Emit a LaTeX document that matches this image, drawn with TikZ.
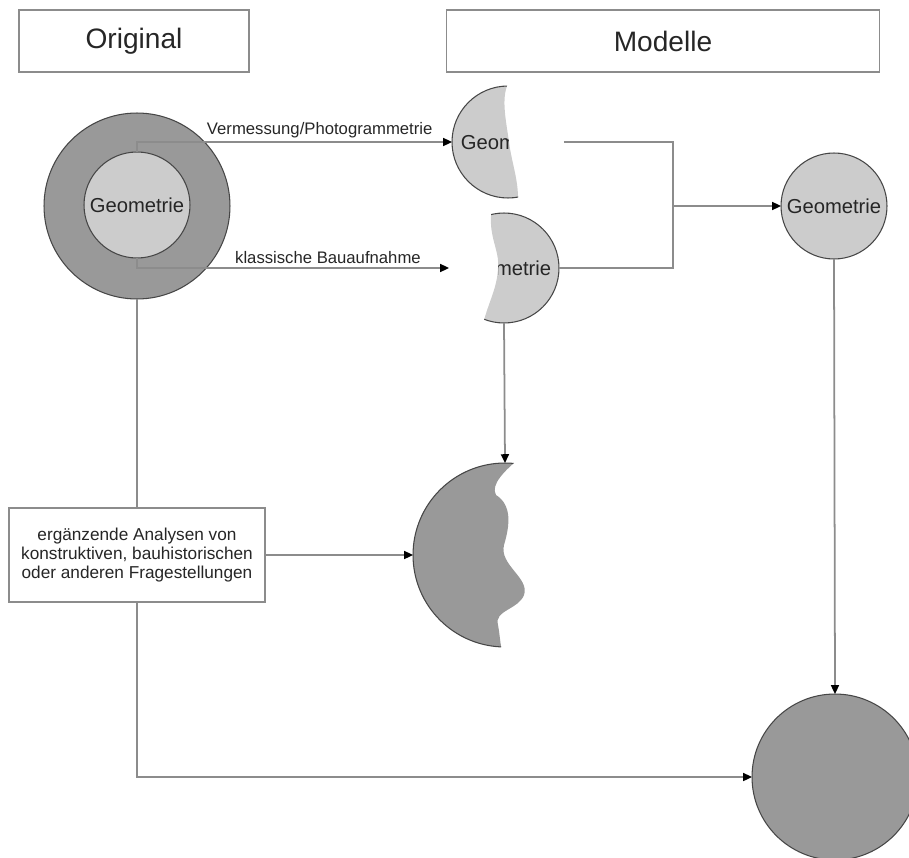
\documentclass[tikz,border=0pt]{standalone}
\usepackage{fontspec}
\setmainfont{Liberation Sans}
\usetikzlibrary{arrows.meta}
\definecolor{dunkelgrau}{gray}{0.6}
\definecolor{hellgrau}{gray}{0.8}
\definecolor{liniengrau}{gray}{0.55}

\begin{document}
\begin{tikzpicture}[x=0.02cm, y=-0.02cm]
  % Define box, circle and connector styles
  \tikzstyle{myboxtitel} = [draw=liniengrau, line width=1pt, rectangle,
  minimum height=1.24cm, font=\fontsize{16}{19}\selectfont, text=black!85]
  \tikzstyle{mykreis} = [draw=gray!55!black, line width=0.6pt, circle,
  inner sep=0pt, outer sep=0pt, font=\fontsize{11.5}{13}\selectfont, text=black!85]
  \tikzstyle{myboxanalyse} = [draw=liniengrau, line width=1pt, rectangle,
  fill=white, minimum width=5.12cm, minimum height=1.88cm, align=center,
  font=\fontsize{9.8}{11}\selectfont, text=black!85]
  \tikzstyle{verbinder} = [draw=liniengrau, line width=1pt]
  \tikzstyle{pfeil} = [verbinder, -{Triangle[length=5pt, width=4.5pt, color=black]}]
  \tikzstyle{fancylabel} = [font=\fontsize{9.5}{11}\selectfont, text=black!85,
  inner sep=2pt]

  \clip (0,0) rectangle (909,858);

  % Kopfzeilen
  \node[myboxtitel, minimum width=4.6cm] (original) at (134,41) {Original};
  \node[myboxtitel, minimum width=8.66cm] (modelle) at (663,41) {Modelle};

  % Original mit Geometrie
  \node[mykreis, fill=dunkelgrau, minimum size=3.72cm] (bau) at (137,206) {};
  \node[mykreis, fill=hellgrau, minimum size=2.12cm] (baugeo) at (137,205) {Geometrie};

  % Teilmodelle (abgerissen)
  \begin{scope}
    \clip (510,80) .. controls (500,95) and (506,120) .. (509,142)
      .. controls (512,165) and (519,180) .. (518,205) -- (440,205) -- (440,80) -- cycle;
    \node[mykreis, fill=hellgrau, minimum size=2.24cm] (vermessung) at (508,142) {Geometrie};
  \end{scope}
  \begin{scope}
    \clip (492,208) .. controls (487,235) and (500,250) .. (498,268)
      .. controls (497,290) and (488,302) .. (482,328) -- (570,328) -- (570,208) -- cycle;
    \node[mykreis, fill=hellgrau, minimum size=2.2cm] (bauaufnahme) at (504,268) {Geometrie};
  \end{scope}
  \begin{scope}
    \clip (520,458) .. controls (505,470) and (490,485) .. (496,495)
      .. controls (512,505) and (510,525) .. (504,545)
      .. controls (499,565) and (530,578) .. (524,595)
      .. controls (518,610) and (494,610) .. (498,625)
      .. controls (500,635) and (500,645) .. (503,655) -- (400,655) -- (400,458) -- cycle;
    \node[mykreis, fill=dunkelgrau, minimum size=3.68cm] (analyse) at (505,555) {};
  \end{scope}

  % Modelle
  \node[mykreis, fill=hellgrau, minimum size=2.12cm] (modellgeo) at (834,206) {Geometrie};
  \node[mykreis, fill=dunkelgrau, minimum size=3.32cm] (gesamt) at (835,777) {};

  \node[myboxanalyse] (fragen) at (137,555) {erg\"anzende Analysen von\\
    konstruktiven, bauhistorischen\\ oder anderen Fragestellungen};

  \coordinate (zusammen) at (673,206);

  % Verbindungen
  \draw[pfeil] (baugeo.north) |- node[fancylabel, pos=0.79, above]
    {Vermessung/Photogrammetrie} (vermessung.west);
  \draw[pfeil] (baugeo.south) |- node[fancylabel, pos=0.806, above]
    {klassische Bauaufnahme} (bauaufnahme.west);
  \draw[verbinder] (vermessung.east) -| (zusammen);
  \draw[verbinder] (bauaufnahme.east) -| (zusammen);
  \draw[pfeil] (zusammen) -- (modellgeo.west);
  \draw[pfeil] (bauaufnahme.south) -- (analyse.north);
  \draw[verbinder] (bau.south) -- (fragen.north);
  \draw[pfeil] (fragen.east) -- (analyse.west);
  \draw[pfeil] (fragen.south) |- (gesamt.west);
  \draw[pfeil] (modellgeo.south) -- (gesamt.north);
\end{tikzpicture}
\end{document}
